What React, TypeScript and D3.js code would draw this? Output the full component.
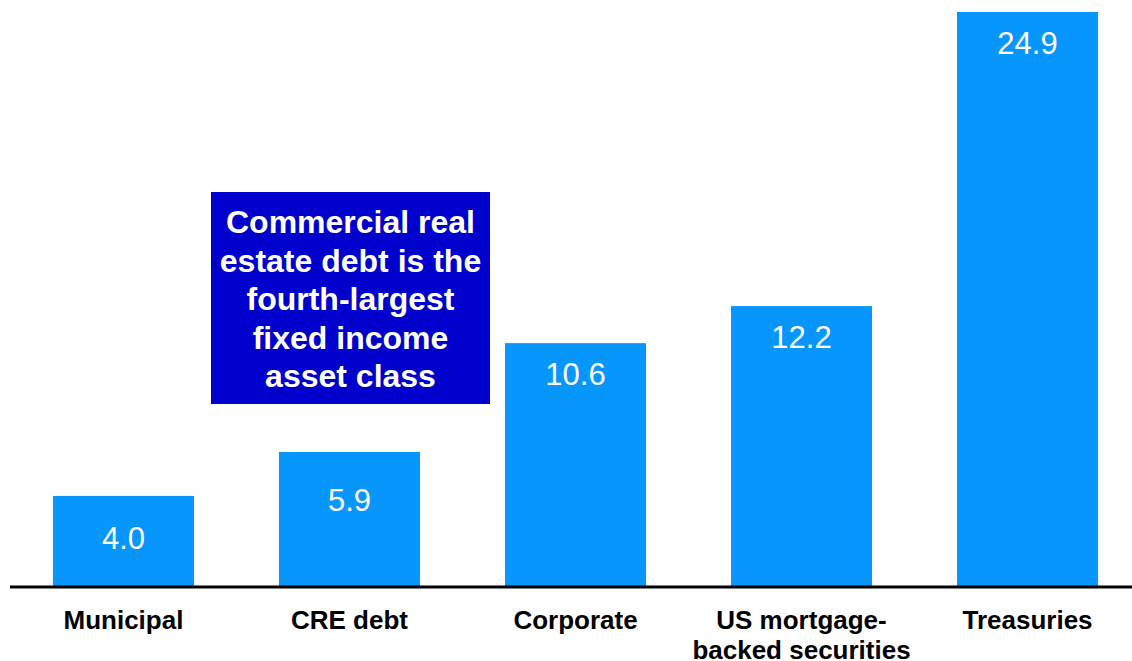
import React from "react";
import * as d3 from "d3";

const categories = ["Municipal", "CRE debt", "Corporate", "US mortgage-backed securities", "Treasuries"];
const categoryLines = [["Municipal"], ["CRE debt"], ["Corporate"], ["US mortgage-", "backed securities"], ["Treasuries"]];
const values = [4.0, 5.9, 10.6, 12.2, 24.9];
const calloutLines = ["Commercial real", "estate debt is the", "fourth-largest", "fixed income", "asset class"];

const W = 1132;
const H = 661;
const baseY = 586;
const labelDy = [53, 59, 42, 42, 42];

export default function App() {
  const x = d3.scaleBand<string>().domain(categories).range([10, 1141]).paddingInner(0.376).paddingOuter(0.19);
  const y = d3.scaleLinear().domain([0, 24.9]).range([588.6, 12]);
  const font = "'Liberation Sans', Arial, Helvetica, sans-serif";
  return (
    <svg width={W} height={H} style={{ position: "absolute", left: 0, top: 0 }} fontFamily={font}>
      <rect width={W} height={H} fill="#fff" />
      {categories.map((c, i) => {
        const x0 = x(c)!;
        const bw = x.bandwidth();
        return (
          <g key={c}>
            <rect x={x0} y={y(values[i])} width={bw} height={baseY - y(values[i])} fill="#0796FC" />
            <text x={x0 + bw / 2} y={y(values[i]) + labelDy[i]} textAnchor="middle" fill="#fff" fontSize={31}>
              {values[i].toFixed(1)}
            </text>
            {categoryLines[i].map((l, j) => (
              <text key={j} x={x0 + bw / 2} y={629 + j * 30} textAnchor="middle" fill="#000" fontSize={26} fontWeight="bold">
                {l}
              </text>
            ))}
          </g>
        );
      })}
      <line x1={10} x2={W} y1={587} y2={587} stroke="#000" strokeWidth={3} />
      <rect x={211} y={192} width={279} height={212} fill="#0000CC" />
      {calloutLines.map((l, i) => (
        <text key={i} x={350.5} y={233 + i * 38.5} textAnchor="middle" fill="#fff" fontSize={32} fontWeight="bold">
          {l}
        </text>
      ))}
    </svg>
  );
}
